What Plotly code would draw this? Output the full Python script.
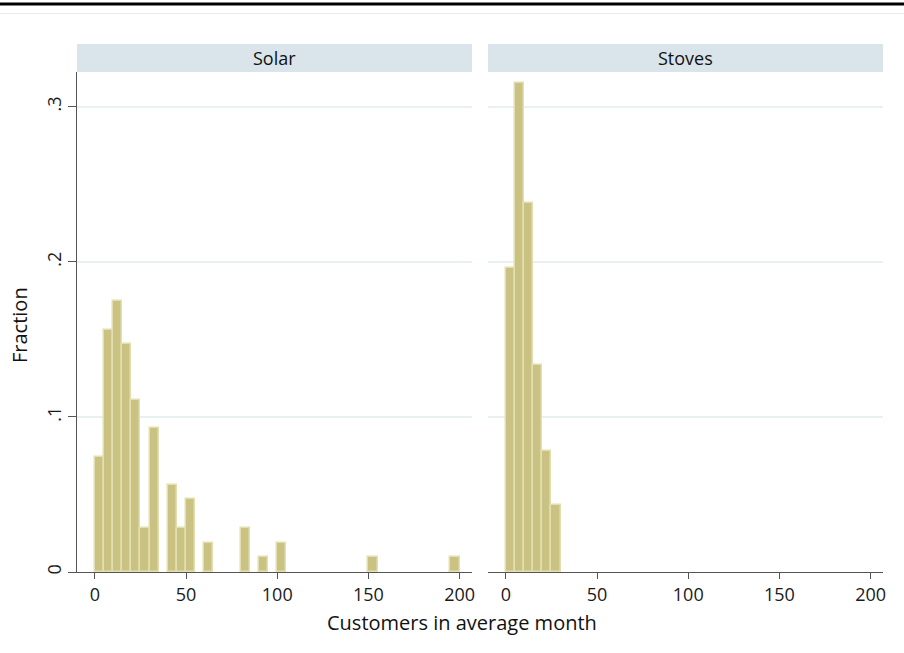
import plotly.graph_objects as go

# ---- data ----
panels = ["Solar", "Stoves"]
bin_width = 5
solar_bin_start = [0, 5, 10, 15, 20, 25, 30, 40, 45, 50, 60, 80, 90, 100, 150, 195]
solar_fraction = [0.0742, 0.1563, 0.1747, 0.1472, 0.1112, 0.0283, 0.0927, 0.0558,
                  0.0283, 0.0468, 0.0189, 0.0283, 0.0099, 0.0189, 0.0099, 0.0099]
stoves_bin_start = [0, 5, 10, 15, 20, 25]
stoves_fraction = [0.1962, 0.3150, 0.2378, 0.1335, 0.0781, 0.0429]
x_ticks = [0, 50, 100, 150, 200]
y_ticks = [0, 0.1, 0.2, 0.3]
y_ticklabels = ["0", ".1", ".2", ".3"]
x_title = "Customers in average month"
y_title = "Fraction"

FILL = "#c9c282"
EDGE = "#e4dfb0"
GRID = "#e9f0f2"
HEADER = "#d9e5ea"
AXIS = "#555555"
FONT = "Open Sans"

W, H = 904, 653
L, R, T, B = 77, 21, 72, 81
pw = W - L - R  # 806
ph = H - T - B  # 500
gap = 16
panel_w = (pw - gap) / 2

fig = go.Figure()
for i, (starts, fr) in enumerate([(solar_bin_start, solar_fraction),
                                  (stoves_bin_start, stoves_fraction)]):
    fig.add_trace(go.Bar(
        x=[s + bin_width / 2 for s in starts], y=fr, width=bin_width,
        marker=dict(color=FILL, line=dict(color=EDGE, width=1.5)),
        xaxis="x" if i == 0 else "x2", yaxis="y" if i == 0 else "y2",
        showlegend=False, hoverinfo="x+y"))

xrange = [-9.8, 206.8]
yrange = [0, 0.3224]
d1 = [0, panel_w / pw]
d2 = [(panel_w + gap) / pw, 1]

TICKFONT = dict(family=FONT, size=18, color="#1a1a1a")
xcommon = dict(range=xrange, tickvals=x_ticks, ticks="outside", ticklen=6,
               tickcolor=AXIS, showline=True, linecolor=AXIS, linewidth=1.2,
               showgrid=False, zeroline=False, tickfont=TICKFONT)
fig.update_layout(
    width=W, height=H, margin=dict(l=L, r=R, t=T, b=B),
    paper_bgcolor="white", plot_bgcolor="white", bargap=0,
    xaxis=dict(domain=d1, anchor="y", **xcommon),
    xaxis2=dict(domain=d2, anchor="y2", **xcommon),
    yaxis=dict(range=yrange, tickvals=y_ticks, ticktext=y_ticklabels,
               tickangle=-90, ticks="outside", ticklen=8, tickcolor=AXIS,
               showline=True, linecolor=AXIS, linewidth=1.2,
               showgrid=True, gridcolor=GRID, gridwidth=1.5, zeroline=False,
               tickfont=TICKFONT, anchor="x"),
    yaxis2=dict(range=yrange, tickvals=y_ticks, showticklabels=False,
                showline=False, showgrid=True, gridcolor=GRID, gridwidth=1.5,
                zeroline=False, anchor="x2", matches="y"),
)

shapes = []
annotations = []
hdr_h = 28 / ph
for name, dom in zip(panels, [d1, d2]):
    shapes.append(dict(type="rect", xref="paper", yref="paper",
                       x0=dom[0], x1=dom[1], y0=1, y1=1 + hdr_h,
                       fillcolor=HEADER, line=dict(width=0), layer="below"))
    annotations.append(dict(text=name, xref="paper", yref="paper",
                            x=(dom[0] + dom[1]) / 2, y=1 + hdr_h / 2,
                            showarrow=False, xanchor="center", yanchor="middle",
                            font=dict(family=FONT, size=18, color="#111111")))
# top frame lines
shapes.append(dict(type="line", xref="paper", yref="paper",
                   x0=-L / pw, x1=(W - L) / pw, y0=(572 - 4) / ph, y1=(572 - 4) / ph,
                   line=dict(color="black", width=3)))
shapes.append(dict(type="line", xref="paper", yref="paper",
                   x0=-L / pw, x1=(W - L) / pw, y0=(572 - 13.5) / ph, y1=(572 - 13.5) / ph,
                   line=dict(color="#ebebeb", width=1)))

annotations.append(dict(text=x_title, xref="paper", yref="paper",
                        x=(462 - L) / pw, y=(572 - 622) / ph, showarrow=False,
                        xanchor="center", yanchor="middle",
                        font=dict(family=FONT, size=20, color="#111111")))
annotations.append(dict(text=y_title, xref="paper", yref="paper",
                        x=(19 - L) / pw, y=(572 - 325) / ph, showarrow=False,
                        textangle=-90, xanchor="center", yanchor="middle",
                        font=dict(family=FONT, size=20, color="#111111")))
fig.update_layout(shapes=shapes, annotations=annotations)

fig.write_html("out.html", config={"displayModeBar": False},
               post_script="document.body.style.margin='0';document.body.style.overflow='hidden';")
